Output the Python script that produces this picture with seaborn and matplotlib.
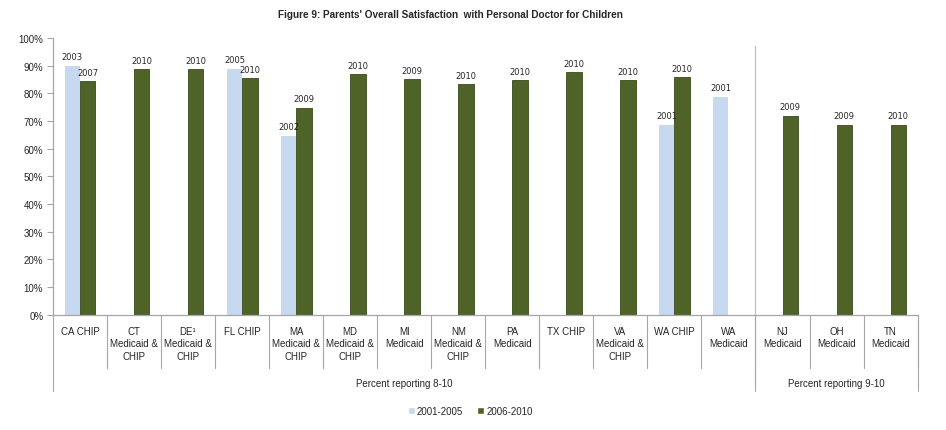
import numpy as np
import pandas as pd
import matplotlib
matplotlib.use('Agg')
import matplotlib.pyplot as plt
import seaborn as sns
from matplotlib.ticker import PercentFormatter

# ---------------------------------------------------------------
# data
# ---------------------------------------------------------------
categories = ['CA CHIP', 'CT\nMedicaid &\nCHIP', 'DE¹\nMedicaid &\nCHIP', 'FL CHIP',
              'MA\nMedicaid &\nCHIP', 'MD\nMedicaid &\nCHIP', 'MI\nMedicaid',
              'NM\nMedicaid &\nCHIP', 'PA\nMedicaid', 'TX CHIP',
              'VA\nMedicaid &\nCHIP', 'WA CHIP', 'WA\nMedicaid',
              'NJ\nMedicaid', 'OH\nMedicaid', 'TN\nMedicaid']
periods = ['2001-2005', '2006-2010']
nan = np.nan
early = [90.0, nan, nan, 88.9, 64.7, nan, nan, nan, nan, nan, nan, 68.7, 78.8, nan, nan, nan]
late = [84.4, 88.7, 88.7, 85.4, 74.8, 86.8, 85.1, 83.2, 84.7, 87.5, 84.7, 85.7, nan, 71.9, 68.7, 68.7]
early_year = ['2003', '', '', '2005', '2002', '', '', '', '', '', '', '2001', '2001', '', '', '']
late_year = ['2007', '2010', '2010', '2010', '2009', '2010', '2009', '2010', '2010', '2010',
             '2010', '2010', '', '2009', '2009', '2010']
groups = ['Percent reporting 8-10', 'Percent reporting 9-10']
group_size = [13, 3]

colors = ['#C6D9F1', '#4F6228']

df = pd.DataFrame({
    'category': categories * 2,
    'period': [periods[0]] * len(categories) + [periods[1]] * len(categories),
    'value': early + late,
    'year': early_year + late_year,
}).dropna(subset=['value'])

# ---------------------------------------------------------------
# plot
# ---------------------------------------------------------------
sns.set_style('white')
plt.rcParams['font.family'] = ['Liberation Sans', 'DejaVu Sans']

fig = plt.figure(figsize=(9.46, 4.31), dpi=100)
ax = fig.add_axes([0.056, 0.267, 0.914, 0.643])

sns.barplot(data=df, x='category', y='value', hue='period', order=categories,
            hue_order=periods, palette=colors, width=0.57, gap=0,
            saturation=1, ax=ax)

line_col = '#A6A6A6'
years = {periods[0]: early_year, periods[1]: late_year}
for cont, per in zip(ax.containers, periods):
    labs = []
    for bar in cont:
        idx = int(round(bar.get_x() + bar.get_width() / 2))
        labs.append(years[per][idx])
        if per == periods[1]:
            bar.set_edgecolor('#3A4A1C')
            bar.set_linewidth(0.6)
        else:
            bar.set_linewidth(0)
    ax.bar_label(cont, labels=labs, padding=3, fontsize=6, fontfamily='DejaVu Sans')

ax.set_xlim(-0.5, len(categories) - 0.5)
ax.set_ylim(0, 100)
ax.set_yticks(np.arange(0, 101, 10))
ax.yaxis.set_major_formatter(PercentFormatter(100, decimals=0))
ax.set_xlabel('')
ax.set_ylabel('')
ax.tick_params(axis='y', left=True, length=4, width=0.8, color=line_col, labelsize=7, pad=3)
ax.tick_params(axis='x', length=0, labelsize=7, pad=8)
for lab in ax.get_xticklabels():
    lab.set_linespacing(1.3)

sns.despine(ax=ax)
for s in ['left', 'bottom']:
    ax.spines[s].set_color(line_col)
    ax.spines[s].set_linewidth(0.9)
ax.spines['left'].set_bounds(0, 100)

# table-like lines below the axis
trans = ax.get_xaxis_transform()
for i in range(len(categories)):
    ax.plot([i + 0.5, i + 0.5], [0, -0.19], color=line_col, lw=0.8, transform=trans, clip_on=False)
edges = [-0.5] + list(np.cumsum(group_size) - 0.5)
for e in edges:
    ax.plot([e, e], [0, -0.275], color=line_col, lw=0.8, transform=trans, clip_on=False)
# group separator inside the plot
ax.plot([edges[1], edges[1]], [0, 0.97], color='#BFBFBF', lw=0.9, transform=trans, clip_on=False)

start = -0.5
for g, n in zip(groups, group_size):
    ax.text(start + n / 2, -0.245, g, transform=trans, ha='center', va='center', fontsize=7)
    start += n

handles, labels = ax.get_legend_handles_labels()
ax.get_legend().remove()
fig.legend(handles, labels, loc='center', bbox_to_anchor=(0.497, 0.045), ncol=2,
           frameon=False, fontsize=7, handlelength=0.7, handleheight=0.7,
           handletextpad=0.2, columnspacing=1.5)

fig.text(0.476, 0.965, "Figure 9: Parents' Overall Satisfaction  with Personal Doctor for Children",
         ha='center', va='center', fontsize=7.2, fontweight='bold')

fig.savefig('out.png', dpi=100)
